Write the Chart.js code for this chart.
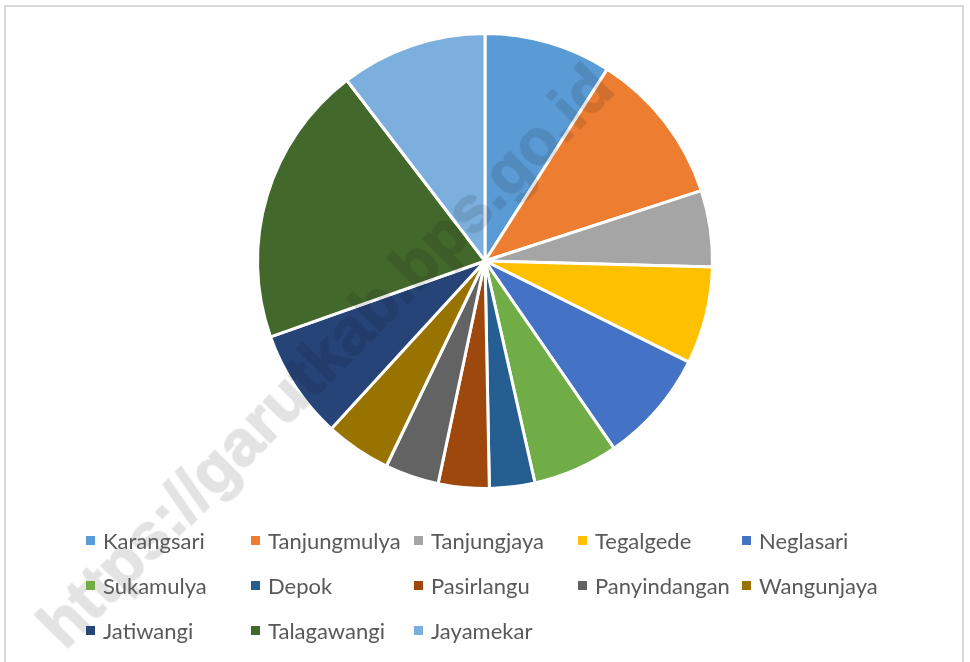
<!DOCTYPE html>
<html>
<head>
<meta charset="utf-8">
<script src="https://cdn.jsdelivr.net/npm/chart.js@4"></script>
<style>
  html, body { margin:0; padding:0; background:#fff; }
  #wrap { position:relative; width:970px; height:662px; overflow:hidden; background:#fff; isolation:isolate; }
  #frame { position:absolute; left:4px; top:5px; width:960px; height:670px; border:2px solid #d9d9d9; box-sizing:border-box; }
  #cv { position:absolute; left:0; top:0; }
  #legend { position:absolute; left:0; top:0; width:970px; height:662px; pointer-events:none; }
  .li { position:absolute; height:24px; display:flex; align-items:center; font-family:Lato, sans-serif; font-size:22px; color:#595959; white-space:nowrap; }
  .li .box { width:9px; height:9px; margin-right:8px; flex:none; }
  #wm { position:absolute; left:65px; top:597px; transform-origin:0 54px; transform:rotate(-45.4deg);
        font-family:"Liberation Sans", Arial, sans-serif; font-weight:bold; font-size:64px; line-height:64px;
        color:#e3e3e3; -webkit-text-stroke:1.5px #e3e3e3; mix-blend-mode:multiply;
        white-space:nowrap; pointer-events:none; }
</style>
</head>
<body>
<div id="wrap">
  <div id="frame"></div>
  <canvas id="cv" width="970" height="662"></canvas>
  <div id="wm">https://garutkab.bps.go.id</div>
  <div id="legend"></div>
</div>
<script>
const categories = ["Karangsari","Tanjungmulya","Tanjungjaya","Tegalgede","Neglasari","Sukamulya","Depok","Pasirlangu","Panyindangan","Wangunjaya","Jatiwangi","Talagawangi","Jayamekar"];
const values = [9.03, 10.97, 5.42, 6.92, 8.06, 6.08, 3.22, 3.61, 3.83, 4.67, 7.78, 20.03, 10.39];
const colors = ["#5B9BD5","#ED7D31","#A5A5A5","#FFC000","#4472C4","#70AD47","#255E91","#9E480E","#636363","#997300","#264478","#43682B","#7CAFDD"];

const chart = new Chart(document.getElementById('cv'), {
  type: 'pie',
  data: {
    labels: categories,
    datasets: [{
      data: values,
      backgroundColor: colors,
      borderColor: '#ffffff',
      borderWidth: 3
    }]
  },
  options: {
    responsive: false,
    animation: false,
    layout: { padding: { left: 256, right: 256, top: 32, bottom: 172 } },
    plugins: {
      legend: { display: false },
      tooltip: { enabled: false }
    }
  }
});

// HTML legend built from the chart's labels and colours (5 columns, Excel-style)
const legendEl = document.getElementById('legend');
const colX = [86, 251, 414, 578, 742];
const rowY = [540, 585, 630];
chart.data.labels.forEach((lab, i) => {
  const d = document.createElement('div');
  d.className = 'li';
  const c = i % 5, r = Math.floor(i / 5);
  d.style.left = colX[c] + 'px';
  d.style.top = (rowY[r] - 12) + 'px';
  const b = document.createElement('span');
  b.className = 'box';
  b.style.background = chart.data.datasets[0].backgroundColor[i];
  const t = document.createElement('span');
  t.textContent = lab;
  d.appendChild(b); d.appendChild(t);
  legendEl.appendChild(d);
});
</script>
</body>
</html>
